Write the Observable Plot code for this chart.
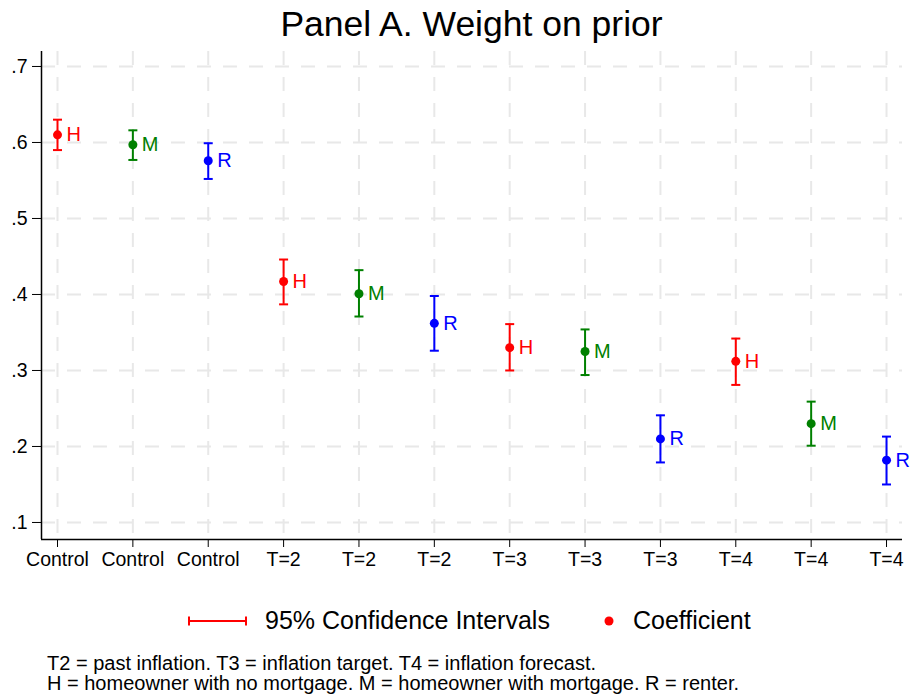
<!DOCTYPE html>
<html><head><meta charset="utf-8">
<script src="https://cdn.jsdelivr.net/npm/d3@7"></script>
<script src="https://cdn.jsdelivr.net/npm/@observablehq/plot@0.6"></script>
<style>
body{margin:0;background:#fff;font-family:"Liberation Sans",Arial,sans-serif;}
#wrap{width:910px;height:698px;position:relative;overflow:hidden;}
#title{position:absolute;left:41px;width:861px;top:4px;text-align:center;font-size:35.5px;line-height:40px;color:#000;}
#chart{position:absolute;left:0;top:46px;}
#legend{position:absolute;top:606px;left:0;width:910px;height:30px;font-size:25px;line-height:29px;color:#000;}
#notes{position:absolute;left:47px;top:653px;font-size:20px;line-height:20px;color:#000;white-space:nowrap;}
</style></head>
<body><div id="wrap">
<div id="title">Panel A. Weight on prior</div>
<div id="chart"></div>
<div id="legend">
 <svg width="70" height="30" style="position:absolute;left:186px;top:0"><line x1="3" y1="15" x2="60" y2="15" stroke="red" stroke-width="2"/><line x1="3" y1="10.5" x2="3" y2="19.5" stroke="red" stroke-width="2"/><line x1="60" y1="10.5" x2="60" y2="19.5" stroke="red" stroke-width="2"/></svg>
 <span style="position:absolute;left:265px;top:0px">95% Confidence Intervals</span>
 <svg width="12" height="30" style="position:absolute;left:603px;top:0"><circle cx="6" cy="15" r="4.5" fill="red"/></svg>
 <span style="position:absolute;left:633px;top:0px">Coefficient</span>
</div>
<div id="notes">T2 = past inflation. T3 = inflation target. T4 = inflation forecast.<br>H = homeowner with no mortgage. M = homeowner with mortgage. R = renter.</div>
</div>
<script>
const positions = [1,2,3,4,5,6,7,8,9,10,11,12];
const xLabels = ["Control","Control","Control","T=2","T=2","T=2","T=3","T=3","T=3","T=4","T=4","T=4"];
const groups = ["H","M","R","H","M","R","H","M","R","H","M","R"];
const coef  = [0.610,0.597,0.576,0.417,0.401,0.362,0.330,0.325,0.210,0.312,0.230,0.182];
const ciLow = [0.590,0.577,0.552,0.387,0.371,0.326,0.300,0.294,0.179,0.281,0.201,0.150];
const ciHigh= [0.630,0.616,0.599,0.446,0.432,0.398,0.361,0.354,0.241,0.342,0.259,0.213];
const yTicks = [0.1,0.2,0.3,0.4,0.5,0.6,0.7];
const groupColors = {H:"#ff0000", M:"#008000", R:"#0000ff"};

const data = positions.map((p,i)=>({x:p, g:groups[i], v:coef[i], lo:ciLow[i], hi:ciHigh[i]}));
const col = d => groupColors[d.g];
const dash = "14,12";
const capSymbol = {draw(ctx, size){ const w = Math.sqrt(size/Math.PI); ctx.moveTo(-w,0); ctx.lineTo(w,0); }};

const plot = Plot.plot({
  width: 910, height: 540,
  marginLeft: 41, marginRight: 8, marginTop: 5, marginBottom: 47,
  style: {fontFamily: '"Liberation Sans", Arial, sans-serif', fontSize: "19.5px", color: "#000", background: "#fff"},
  x: {type: "linear", domain: [0.7877, 12.212]},
  y: {type: "linear", domain: [0.0776, 0.7197]},
  marks: [
    Plot.gridY(yTicks, {stroke: "#e8e8e8", strokeOpacity: 1, strokeWidth: 2, strokeDasharray: dash}),
    Plot.gridX(positions, {stroke: "#e8e8e8", strokeOpacity: 1, strokeWidth: 2, strokeDasharray: dash}),
    Plot.axisY(yTicks, {tickSize: 9, tickPadding: 5, tickFormat: d => d3.format(".1f")(d).replace(/^0/, ""), fontSize: 19.5, label: null, stroke: "#000"}),
    Plot.axisX(positions, {tickSize: 8, tickPadding: 5, tickFormat: d => xLabels[d-1], fontSize: 19.5, label: null, stroke: "#000"}),
    Plot.ruleY([0.0776], {stroke: "#000", strokeWidth: 1.5}),
    Plot.ruleX([0.7877], {stroke: "#000", strokeWidth: 1.5}),
    Plot.ruleX(data, {x: "x", y1: "lo", y2: "hi", stroke: col, strokeWidth: 2}),
    Plot.dot(data, {x: "x", y: "lo", symbol: capSymbol, r: 4.5, stroke: col, fill: "none", strokeWidth: 2}),
    Plot.dot(data, {x: "x", y: "hi", symbol: capSymbol, r: 4.5, stroke: col, fill: "none", strokeWidth: 2}),
    Plot.dot(data, {x: "x", y: "v", r: 4.5, fill: col, stroke: "none"}),
    Plot.text(data, {x: "x", y: "v", text: "g", fill: col, dx: 9, textAnchor: "start", fontSize: 20})
  ]
});
document.getElementById("chart").appendChild(plot);
</script>
</body></html>
